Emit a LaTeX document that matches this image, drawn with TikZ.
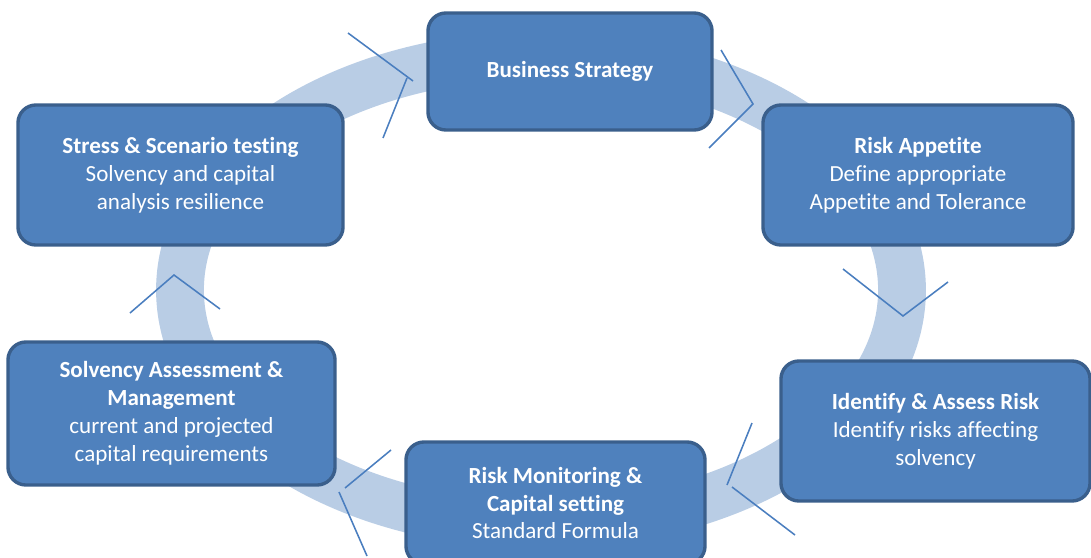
\documentclass[tikz,border=0pt]{standalone}
\usepackage{fontspec}
\setmainfont[Ligatures=NoCommon]{Carlito}
\usetikzlibrary{positioning}

\definecolor{boxfill}{HTML}{4F81BD}
\definecolor{boxline}{HTML}{3A5F8C}
\definecolor{ringblue}{HTML}{B9CDE5}
\definecolor{tickblue}{HTML}{4A7EBF}

\begin{document}
\begin{tikzpicture}[
        x=0.025cm, y=-0.025cm,
        stage/.style={rectangle, draw=boxline, fill=boxfill, line width=2.4pt,
                      rounded corners=0.45cm, align=center, text=white,
                      font=\fontsize{16.4}{19.9}\selectfont, inner sep=4pt},
        ring/.style={draw=ringblue, line width=34pt},
        tick/.style={draw=tickblue, line width=1.1pt},
    ]
    \useasboundingbox (0,0) rectangle (1091,558);

    % ====== ring ======
    \draw[ring] (541,290) ellipse [x radius=361, y radius=235];

    % ====== chevrons on the ring ======
    \draw[tick] (348,33) -- (413,81);
    \draw[tick] (407,78) -- (383,138);
    \draw[tick] (721,50) -- (753,104) -- (709,148);
    \draw[tick] (843,269) -- (903,316) -- (948,282);
    \draw[tick] (130,313) -- (174,275) -- (220,309);
    \draw[tick] (391,450) -- (345,488);
    \draw[tick] (339,492) -- (367,556);
    \draw[tick] (752,423) -- (727,485);
    \draw[tick] (732,487) -- (795,535);

    % ====== stages ======
    \node[stage, minimum width=7.1cm, minimum height=2.925cm] (strategy) at (570,71.5)
        {\textbf{Business Strategy}};
    \node[stage, minimum width=7.75cm, minimum height=3.5cm] (appetite) at (918,175)
        {\textbf{Risk Appetite}\\Define appropriate\\Appetite and Tolerance};
    \node[stage, minimum width=7.725cm, minimum height=3.5cm] (identify) at (935.5,431)
        {\textbf{Identify \& Assess Risk}\\Identify risks affecting\\solvency};
    \node[stage, minimum width=7.475cm, minimum height=3.05cm] (monitor) at (555.5,503)
        {\textbf{Risk Monitoring \&}\\\textbf{Capital setting}\\Standard Formula};
    \node[stage, minimum width=8.175cm, minimum height=3.575cm] (solvency) at (171.5,413.5)
        {\textbf{Solvency Assessment \&}\\\textbf{Management}\\current and projected\\capital requirements};
    \node[stage, minimum width=8.125cm, minimum height=3.5cm] (stress) at (180.5,175)
        {\textbf{Stress \& Scenario testing}\\Solvency and capital\\analysis resilience};

    \end{tikzpicture}
\end{document}
